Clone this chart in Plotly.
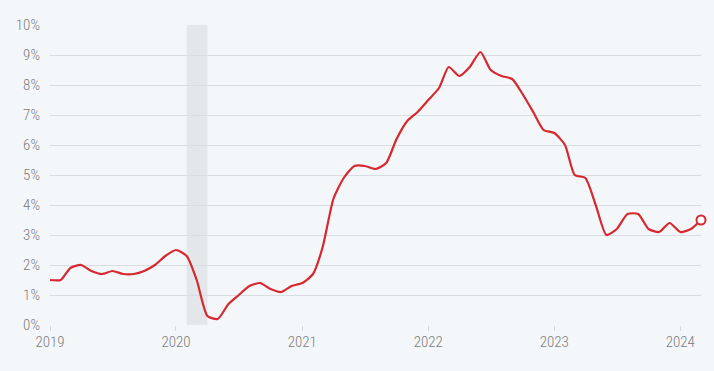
import plotly.graph_objects as go

months = ["2019-01","2019-02","2019-03","2019-04","2019-05","2019-06","2019-07","2019-08","2019-09","2019-10","2019-11","2019-12",
          "2020-01","2020-02","2020-03","2020-04","2020-05","2020-06","2020-07","2020-08","2020-09","2020-10","2020-11","2020-12",
          "2021-01","2021-02","2021-03","2021-04","2021-05","2021-06","2021-07","2021-08","2021-09","2021-10","2021-11","2021-12",
          "2022-01","2022-02","2022-03","2022-04","2022-05","2022-06","2022-07","2022-08","2022-09","2022-10","2022-11","2022-12",
          "2023-01","2023-02","2023-03","2023-04","2023-05","2023-06","2023-07","2023-08","2023-09","2023-10","2023-11","2023-12",
          "2024-01","2024-02","2024-03"]
inflation = [1.5,1.5,1.9,2.0,1.8,1.7,1.8,1.7,1.7,1.8,2.0,2.3,
             2.5,2.3,1.5,0.3,0.2,0.7,1.0,1.3,1.4,1.2,1.1,1.3,
             1.4,1.7,2.6,4.2,4.9,5.3,5.3,5.2,5.4,6.2,6.8,7.1,
             7.5,7.9,8.6,8.3,8.6,9.1,8.5,8.3,8.2,7.7,7.1,6.5,
             6.4,6.0,5.0,4.9,4.0,3.0,3.2,3.7,3.7,3.2,3.1,3.4,
             3.1,3.2,3.5]
recession = ["2020-02-01", "2020-04-01"]
year_ticks = ["2019-01-01","2020-01-01","2021-01-01","2022-01-01","2023-01-01","2024-01-01"]
year_labels = ["2019","2020","2021","2022","2023","2024"]
y_ticks = list(range(0, 11))
y_labels = [f"{v}%" for v in y_ticks]

dates = [m + "-01" for m in months]
red = "#d7282f"
font_family = "Roboto Condensed, Roboto, sans-serif"
text_color = "#7c7c7c"

fig = go.Figure()
fig.add_trace(go.Scatter(x=dates, y=inflation, mode="lines",
                         line=dict(color=red, width=2.2, shape="spline", smoothing=0.6),
                         hoverinfo="skip", showlegend=False))
fig.add_trace(go.Scatter(x=[dates[-1]], y=[inflation[-1]], mode="markers",
                         marker=dict(symbol="circle", size=9, color="white",
                                     line=dict(color=red, width=2)),
                         cliponaxis=False, showlegend=False, hoverinfo="skip"))
fig.add_shape(type="rect", xref="x", yref="y", x0=recession[0], x1=recession[1],
              y0=0, y1=10, fillcolor="#e3e7ea", line=dict(width=0), layer="below")

fig.update_layout(
    width=714, height=371,
    margin=dict(l=50, r=13, t=25, b=46),
    paper_bgcolor="#f4f7fa", plot_bgcolor="#f4f7fa",
    font=dict(family=font_family, color=text_color, size=15, weight=300),
    xaxis=dict(range=["2019-01-01", "2024-03-01"], tickvals=year_ticks, ticktext=year_labels,
               showgrid=False, zeroline=False, showline=False, automargin=False,
               ticks="outside", ticklen=5, tickcolor="#d5d9dd", tickwidth=1,
               ticklabelstandoff=-2,
               tickfont=dict(size=15, color=text_color, weight=300)),
    yaxis=dict(range=[0, 10], tickvals=y_ticks, ticktext=y_labels, automargin=False,
               showgrid=True, gridcolor="#d9dde1", gridwidth=1, zeroline=False,
               showline=False, ticks="", ticklabelstandoff=9,
               tickfont=dict(size=15, color=text_color, weight=300)),
)
fig.write_html("out.html", config={"displayModeBar": False},
               post_script="document.body.style.margin='0';")
